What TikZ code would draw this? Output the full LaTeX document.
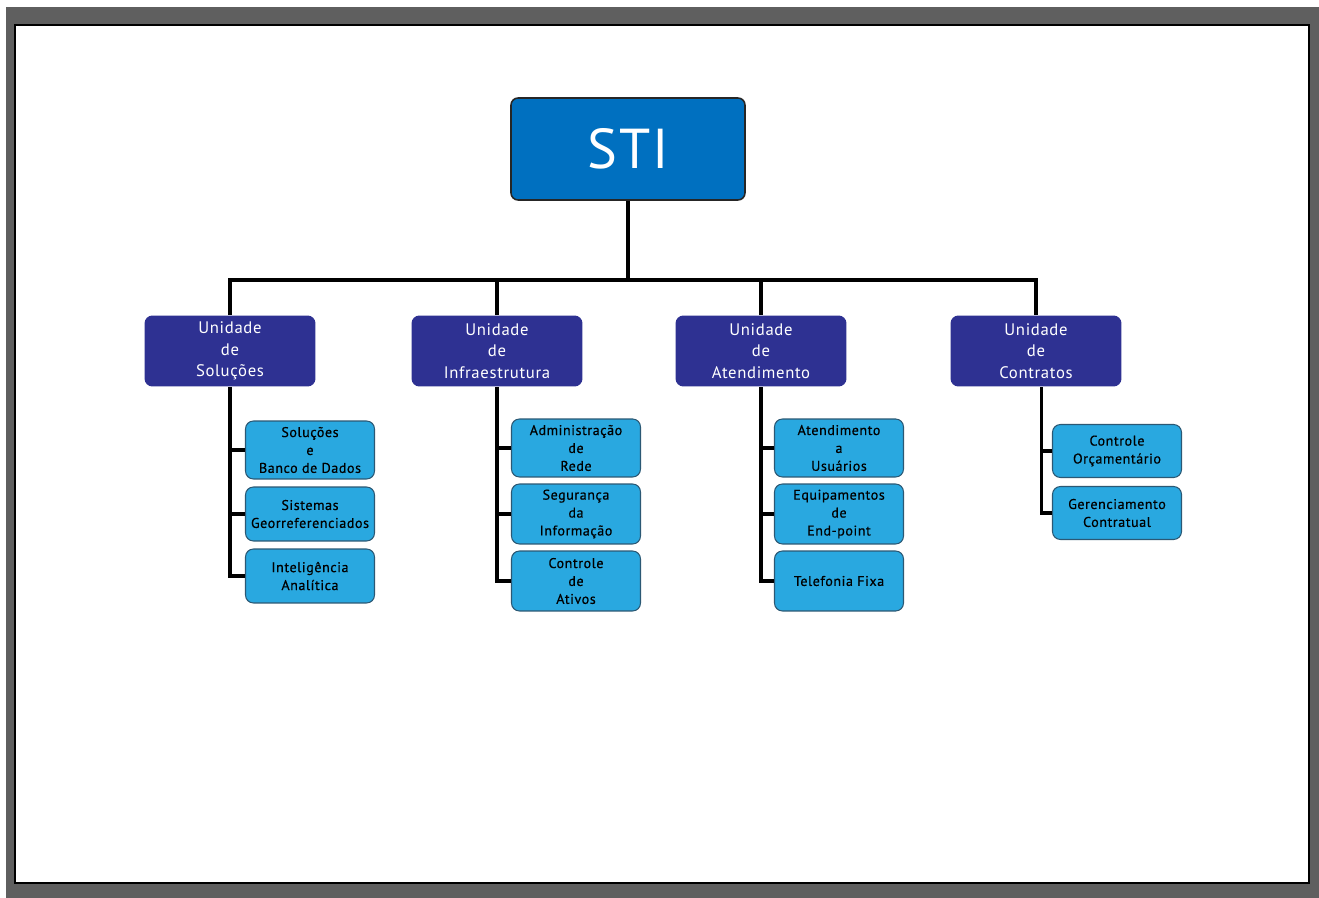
\documentclass[tikz,border=0pt]{standalone}
\usepackage{fontspec}
\setmainfont{PT Sans}[LetterSpace=4]
\newfontfamily\subfont{PT Sans}[LetterSpace=4, FakeBold=0.5]
\usetikzlibrary{positioning}

\definecolor{stiblue}{HTML}{0070C0}
\definecolor{unitblue}{HTML}{2E3192}
\definecolor{subblue}{HTML}{29A8E0}
\definecolor{subedge}{HTML}{2B5874}
\definecolor{framegray}{HTML}{5F5F5F}

\tikzset{
	topbox/.style={draw=black!85, line width=0.9pt, fill=stiblue, rounded corners=4pt,
		minimum width=4.68cm, minimum height=2.04cm, text=white,
		font=\fontsize{32}{36}\selectfont},
	unitbox/.style={fill=unitblue, rounded corners=4.5pt, minimum width=3.42cm,
		minimum height=1.42cm, text=white, align=center, inner sep=0pt,
		font=\fontsize{9.5}{12.3}\selectfont},
	subbox/.style={draw=subedge, line width=0.6pt, fill=subblue, rounded corners=4.5pt,
		minimum width=2.58cm, minimum height=1.16cm, align=center, inner sep=0pt,
		font=\subfont\fontsize{8}{10.2}\selectfont},
	link/.style={line width=2pt},
}

\begin{document}
\begin{tikzpicture}[x=0.02cm, y=-0.02cm]
		\useasboundingbox (0,0) rectangle (1319,898);

		% frame
		\fill[framegray] (6,7) rectangle (1319,898);
		\draw[fill=white, draw=black, line width=0.8pt] (15,25) rectangle (1309,883);

		% top
		\node[topbox] (sti) at (628,149) {STI};
		\coordinate (bus) at (628,280);

		% units
		\node[unitbox] (uSol) at (230,351) {Unidade\\de\\Soluções};
		\node[unitbox] (uInf) at (497,351) {Unidade\\de\\Infraestrutura};
		\node[unitbox] (uAte) at (761,351) {Unidade\\de\\Atendimento};
		\node[unitbox] (uCon) at (1036,351) {Unidade\\de\\Contratos};
		\coordinate (conLine) at ([xshift=3pt]uCon.south);

		% Soluções
		\node[subbox] (sol1) at (310,450) {Soluções\\e\\Banco de Dados};
		\node[subbox, minimum height=1.08cm] (sol2) at (310,514) {Sistemas\\Georreferenciados};
		\node[subbox, minimum height=1.08cm] (sol3) at (310,576) {Inteligência\\Analítica};

		% Infraestrutura
		\node[subbox] (inf1) at (576,448) {Administração\\de\\Rede};
		\node[subbox, minimum height=1.2cm] (inf2) at (576,514) {Segurança\\da\\Informação};
		\node[subbox, minimum height=1.2cm] (inf3) at (576,581) {Controle\\de\\Ativos};

		% Atendimento
		\node[subbox] (ate1) at (839,448) {Atendimento\\a\\Usuários};
		\node[subbox, minimum height=1.2cm] (ate2) at (839,514) {Equipamentos\\de\\End-point};
		\node[subbox, minimum height=1.2cm] (ate3) at (839,581) {Telefonia Fixa};

		% Contratos
		\node[subbox, minimum height=1.06cm] (con1) at (1117,451) {Controle\\Orçamentário};
		\node[subbox, minimum height=1.06cm] (con2) at (1117,513) {Gerenciamento\\Contratual};

		\begin{scope}[link]
			\draw (sti.south) -- (bus);
			\draw (uSol.north) |- (bus) -| (uCon.north);
			\draw (uInf.north) -- (uInf.north |- bus);
			\draw (uAte.north) -- (uAte.north |- bus);

			\draw (uSol.south) |- (sol3.west);
			\draw (sol1.west) -- (sol1.west -| uSol.south);
			\draw (sol2.west) -- (sol2.west -| uSol.south);

			\draw (uInf.south) |- (inf3.west);
			\draw (inf1.west) -- (inf1.west -| uInf.south);
			\draw (inf2.west) -- (inf2.west -| uInf.south);

			\draw (uAte.south) |- (ate3.west);
			\draw (ate1.west) -- (ate1.west -| uAte.south);
			\draw (ate2.west) -- (ate2.west -| uAte.south);

			\draw (conLine) |- (con2.west);
			\draw (con1.west) -- (con1.west -| conLine);
		\end{scope}
	\end{tikzpicture}
\end{document}
